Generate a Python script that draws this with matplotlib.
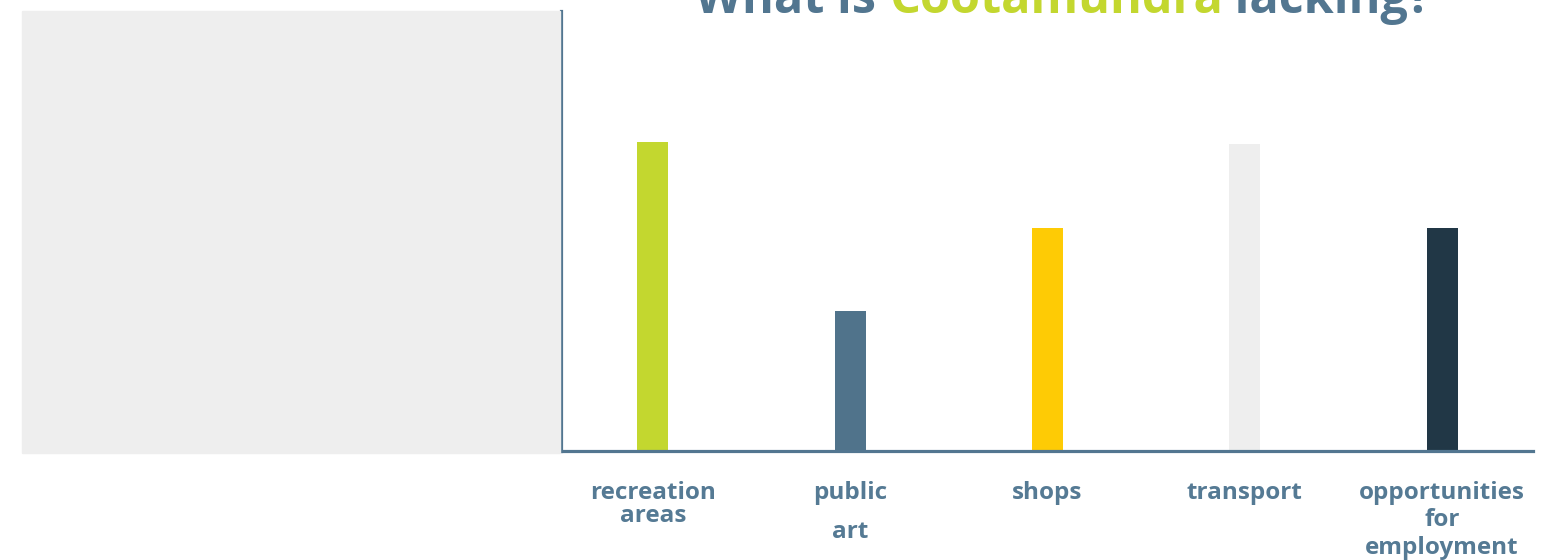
import numpy as np
import matplotlib.pyplot as plt
from matplotlib.patches import Rectangle

# survey answers
categories = ["recreation\nareas", "public\n\nart", "shops", "transport",
              "opportunities\nfor\nemployment"]
responses = [22.1, 10.0, 15.9, 21.9, 15.9]
bar_colors = ["#c3d72f", "#50738b", "#fecb05", "#eeeeee", "#213746"]

slate = "#527690"
label_col = "#557a94"
lime = "#c3d72f"

plt.rcParams['font.family'] = ['Open Sans', 'DejaVu Sans']

fig = plt.figure(figsize=(15.57, 5.6), dpi=100)

# grey panel on the left
fig.patches.append(Rectangle((22 / 1557, 1 - 453 / 560), (560 - 22) / 1557, 442 / 560,
                             transform=fig.transFigure, color="#eeeeee", zorder=0))

ax = fig.add_axes([561 / 1557, 109 / 560, 972 / 1557, 440 / 560])
x = np.arange(len(categories))
ax.bar(x, responses, width=0.157, color=bar_colors, zorder=2)

ax.set_xlim(-0.466, 4.461)
ax.set_ylim(0, 31.43)
for s in ["top", "right"]:
    ax.spines[s].set_visible(False)
for s in ["left", "bottom"]:
    ax.spines[s].set_color(slate)
    ax.spines[s].set_linewidth(2.3)
    ax.spines[s].set_zorder(3)
ax.set_yticks([])
ax.set_xticks(x)
ax.set_xticklabels(categories, fontsize=17.5, fontweight="bold", color=label_col)
ax.tick_params(axis="x", length=0, pad=21.5)
spacing = [0.93, 0.75, 1.0, 1.0, 1.2]
for lbl, ls in zip(ax.get_xticklabels(), spacing):
    lbl.set_linespacing(ls)
    lbl.set_multialignment("center")

# title in three colours, clipped by the top edge
parts = [("What is ", slate), ("Cootamundra", lime), (" lacking?", slate)]
renderer = fig.canvas.get_renderer()
xpos = 695 / 1557
for txt, col in parts:
    t = fig.text(xpos, 1 - 13 / 560, txt, fontsize=35, fontweight="bold",
                 color=col, ha="left", va="baseline")
    bb = t.get_window_extent(renderer=renderer)
    xpos += bb.width / 1557

fig.savefig("out.png", dpi=100)
